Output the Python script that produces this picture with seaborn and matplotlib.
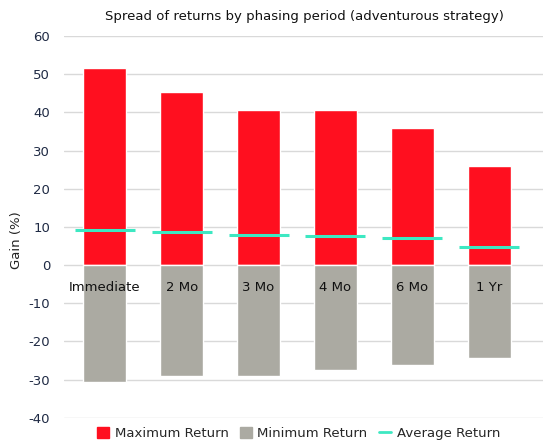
import matplotlib
matplotlib.use('Agg')
import matplotlib.pyplot as plt
import seaborn as sns
from matplotlib.patches import Patch
from matplotlib.lines import Line2D

periods = ['Immediate', '2 Mo', '3 Mo', '4 Mo', '6 Mo', '1 Yr']
max_return = [51.6, 45.3, 40.6, 40.6, 35.9, 25.9]
min_return = [-30.5, -29.1, -29.1, -27.6, -26.2, -24.3]
avg_return = [9.1, 8.7, 8.0, 7.6, 7.2, 4.8]

red = '#FF0F1F'
grey = '#ABAAA2'
teal = '#3DE8C2'

sns.set_style('white')
plt.rcParams['font.family'] = ['DejaVu Sans']
plt.rcParams['axes.unicode_minus'] = False

fig = plt.figure(figsize=(5.43, 4.44), dpi=100)
ax = fig.add_axes([0.118, 0.059, 0.882, 0.86])

sns.barplot(x=periods, y=max_return, color=red, width=0.56, saturation=1, ax=ax, zorder=2)
sns.barplot(x=periods, y=min_return, color=grey, width=0.56, saturation=1, ax=ax, zorder=2)
sns.pointplot(x=periods, y=avg_return, color=teal, markers='_', linestyles='none',
              markersize=43, markeredgewidth=2.2, ax=ax, zorder=3)

ax.set_ylim(-40, 60)
ax.set_xlim(-0.53, 5.7)
ax.set_yticks(range(-40, 61, 10))
ax.yaxis.grid(True, color='#D9D9D9', linewidth=1, zorder=0)
ax.set_axisbelow(True)
for s in ax.spines.values():
    s.set_visible(False)
ax.tick_params(axis='y', length=0, labelsize=9.5, labelcolor='#1F2A44', pad=10)
ax.set_xticks([])
ax.set_xlabel('')
ax.set_ylabel('Gain (%)', fontsize=9.5, color='#222222')
ax.yaxis.set_label_coords(-0.085, 0.466)

for i, p in enumerate(periods):
    ax.text(i, -6, p, ha='center', va='center', fontsize=9.5, color='#111111', zorder=4)

fig.text(0.56, 0.962, 'Spread of returns by phasing period (adventurous strategy)',
         ha='center', va='center', fontsize=9.5, color='#111111')

handles = [Patch(color=red), Patch(color=grey), Line2D([0], [0], color=teal, lw=2)]
fig.legend(handles, ['Maximum Return', 'Minimum Return', 'Average Return'],
           loc='center', bbox_to_anchor=(0.55, 0.024), ncol=3, frameon=False,
           fontsize=9.5, handlelength=0.9, handleheight=0.9, handletextpad=0.4,
           columnspacing=0.9)

fig.savefig('out.png', dpi=100)
